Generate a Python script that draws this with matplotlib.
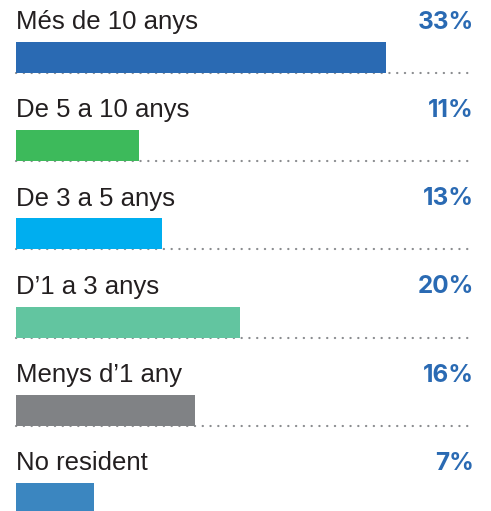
import matplotlib.pyplot as plt

labels = ['Més de 10 anys', 'De 5 a 10 anys', 'De 3 a 5 anys',
          "D’1 a 3 anys", "Menys d’1 any", 'No resident']
values = [33, 11, 13, 20, 16, 7]
colors = ['#2a6ab3', '#3dba5b', '#00aeef', '#62c5a0', '#808285', '#3b86c0']

plt.rcParams['font.family'] = ['Liberation Sans', 'DejaVu Sans']

fig = plt.figure(figsize=(4.91, 5.11), dpi=100)
ax = fig.add_axes([0, 0, 1, 1])
ax.set_xlim(-16 / 11.21, 475 / 11.21)
ax.set_ylim(5.142, -0.652)
ax.axis('off')

xmax = 456 / 11.21
bar_h = 0.35
for i, (lab, v, c) in enumerate(zip(labels, values, colors)):
    ax.plot([0, xmax], [i + bar_h / 2, i + bar_h / 2], color='#8a8c8f',
            lw=1.6, linestyle=(0, (0.1, 3.4)), dash_capstyle='round', zorder=1)
    ax.barh(i, v, height=bar_h, left=0, color=c, zorder=2)
    ax.text(0, i - 0.40, lab, fontsize=18.5, color='#231f20',
            ha='left', va='center')
    ax.text(xmax + 0.18, i - 0.40, f'{v}%', fontsize=17.5, fontweight='bold',
            family=['Inter', 'DejaVu Sans'], color='#2a6ab3',
            ha='right', va='center')

fig.savefig('out.png', dpi=100)
